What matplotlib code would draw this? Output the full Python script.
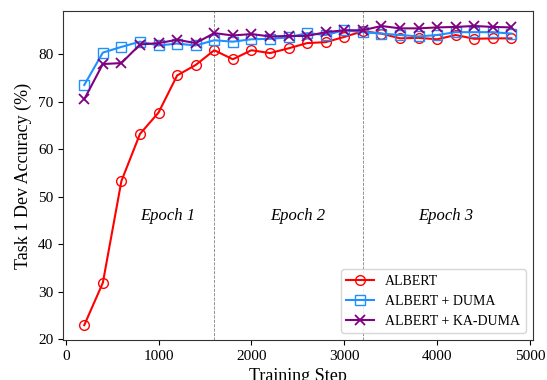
import matplotlib
matplotlib.use('Agg')
import matplotlib.pyplot as plt

plt.rcParams['font.family'] = ['Liberation Serif', 'DejaVu Serif']

steps = [200, 400, 600, 800, 1000, 1200, 1400, 1600, 1800, 2000, 2200, 2400,
         2600, 2800, 3000, 3200, 3400, 3600, 3800, 4000, 4200, 4400, 4600, 4800]
albert = [23.0, 31.9, 53.3, 63.2, 67.7, 75.5, 77.7, 80.8, 78.9, 80.8, 80.2, 81.2,
          82.3, 82.5, 83.6, 84.8, 84.3, 83.3, 83.4, 83.1, 84.0, 83.2, 83.3, 83.3]
duma = [73.5, 80.3, 81.5, 82.6, 81.8, 82.2, 81.8, 82.9, 82.6, 83.1, 83.2, 83.5,
        84.4, 84.0, 85.0, 84.6, 84.3, 84.0, 83.7, 84.0, 84.6, 84.6, 84.6, 84.3]
ka_duma = [70.5, 77.9, 78.1, 82.0, 82.3, 83.0, 82.3, 84.4, 83.9, 84.2, 83.7, 83.8,
           83.8, 84.6, 85.0, 85.0, 85.9, 85.4, 85.4, 85.6, 85.7, 85.9, 85.7, 85.6]
epoch_bounds = [1600, 3200]
epoch_labels = ['Epoch 1', 'Epoch 2', 'Epoch 3']
epoch_x = [800, 2200, 3800]

fig, ax = plt.subplots(figsize=(5.47, 3.8), dpi=100)
fig.subplots_adjust(left=0.115, right=0.974, top=0.971, bottom=0.105)

ax.plot(steps, albert, 'o-', color='red', lw=1.5, ms=7, mfc='none', label='ALBERT')
ax.plot(steps, duma, 's-', color='#1e90ff', lw=1.5, ms=7, mfc='none', label='ALBERT + DUMA')
ax.plot(steps, ka_duma, 'x-', color='purple', lw=1.5, ms=7, mew=1.3, label='ALBERT + KA-DUMA')

for b in epoch_bounds:
    ax.axvline(b, color='gray', lw=0.6, ls='--', zorder=0)
for x, t in zip(epoch_x, epoch_labels):
    ax.text(x, 46, t, fontsize=12, style='italic', va='center', ha='left')

ax.set_xticks([0, 1000, 2000, 3000, 4000, 5000])
ax.set_yticks([20, 30, 40, 50, 60, 70, 80])
ax.tick_params(labelsize=11)
ax.set_xlabel('Training Step', fontsize=13)
ax.set_ylabel('Task 1 Dev Accuracy (%)', fontsize=13)
for s in ax.spines.values():
    s.set_color('#333333')
ax.legend(loc='lower right', fontsize=10)

fig.savefig('out.png', dpi=100)
